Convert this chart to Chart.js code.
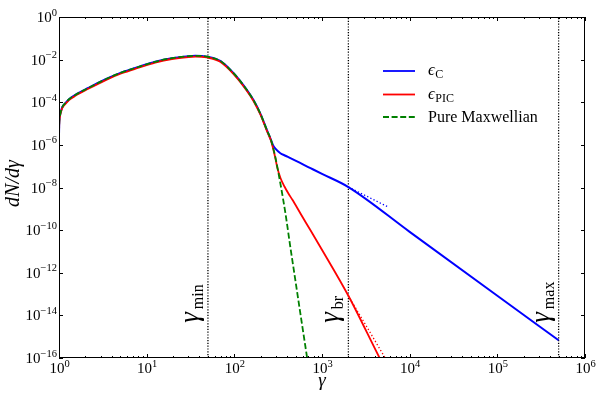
<!DOCTYPE html>
<html>
<head>
<meta charset="utf-8">
<script src="https://cdn.jsdelivr.net/npm/chart.js@4.4.0/dist/chart.umd.min.js"></script>
<style>
  html, body { margin: 0; padding: 0; background: #fff; }
  #chart { display: block; }
</style>
</head>
<body>
<canvas id="chart" width="598" height="397"></canvas>
<script>
// thermal part, shared by all three curves
const thermalGamma = [1.001, 1.005, 1.027, 1.06, 1.1, 1.17, 1.3, 1.52, 2.16, 3.36, 5.2, 8.1, 12.5, 19.4, 30, 36, 48.6, 69, 98.6, 140, 166, 198, 236, 263];
const thermalN = [3.55e-6, 8.91e-6, 2.40e-5, 4.17e-5, 6.31e-5, 8.71e-5, 1.38e-4, 2.14e-4, 4.68e-4, 1.17e-3, 2.51e-3, 4.57e-3, 7.94e-3, 1.17e-2, 1.45e-2, 1.51e-2, 1.38e-2, 8.71e-3, 2.24e-3, 3.63e-4, 1.23e-4, 2.95e-5, 4.79e-6, 1.62e-6];
// the PIC curve sits a hair lower in the thermal part
const picThermalN = [3.24e-6, 8.13e-6, 2.19e-5, 3.80e-5, 5.75e-5, 7.94e-5, 1.26e-4, 1.95e-4, 4.27e-4, 1.07e-3, 2.29e-3, 4.17e-3, 7.24e-3, 1.07e-2, 1.32e-2, 1.38e-2, 1.26e-2, 7.94e-3, 2.04e-3, 3.31e-4, 1.12e-4, 2.69e-5, 4.37e-6, 1.48e-6];

// tails
const maxwellTailGamma = [294, 335, 383, 436, 498, 568, 677, 700];
const maxwellTailN = [2.57e-7, 1.55e-8, 6.03e-10, 1.55e-11, 4.17e-13, 1.15e-14, 1.0e-16, 3.98e-17];

const compTailGamma = [275, 294, 335, 383, 436, 739, 1000, 2000, 1e4, 1e5, 5e5];
const compTailN = [1.0e-6, 6.61e-7, 4.07e-7, 3.09e-7, 2.40e-7, 8.13e-8, 4.37e-8, 1.05e-8, 8.32e-11, 8.32e-14, 6.76e-16];

const picTailGamma = [294, 308, 336, 373, 414, 460, 568, 739, 961, 2000, 4540, 6070];
const picTailN = [2.34e-7, 9.02e-8, 2.80e-8, 1.11e-8, 5.22e-9, 2.64e-9, 6.04e-10, 9.79e-11, 1.58e-11, 8.32e-14, 1.0e-16, 1.0e-17];

// dotted continuations past the break
const compExtGamma = [2000, 5800];
const compExtN = [1.05e-8, 1.17e-9];
const picExtGamma = [2000, 5260];
const picExtN = [8.32e-14, 1.0e-16];

// vertical markers
const markGamma = [50, 2000, 5e5];
const markSub = ['min', 'br', 'max'];

// ticks
const xTickExp = [0, 1, 2, 3, 4, 5, 6];
const yTickExp = [0, -2, -4, -6, -8, -10, -12, -14, -16];

// legend
const legendItems = [
    { color: '#0000ff', dash: [], main: '\u03f5', sub: 'C' },
    { color: '#ff0000', dash: [], main: '\u03f5', sub: 'PIC' },
    { color: '#008000', dash: [6, 2.6], main: 'Pure Maxwellian', sub: '' }
];

function pts(xs, ys) {
    return xs.map(function (x, i) { return { x: x, y: ys[i] }; });
}

const SERIF = '"Liberation Serif", "DejaVu Serif", serif';

const datasets = [
    {
        data: pts(thermalGamma.concat(maxwellTailGamma), thermalN.concat(maxwellTailN)),
        borderColor: '#008000', borderWidth: 1.8, borderDash: [6, 2.6],
        cubicInterpolationMode: 'monotone', order: 0
    },
    {
        data: pts(thermalGamma.concat(picTailGamma), picThermalN.concat(picTailN)),
        borderColor: '#ff0000', borderWidth: 1.8,
        cubicInterpolationMode: 'monotone', order: 1
    },
    {
        data: pts(thermalGamma.concat(compTailGamma), thermalN.concat(compTailN)),
        borderColor: '#0000ff', borderWidth: 2,
        cubicInterpolationMode: 'monotone', order: 2
    },
    {
        data: pts(compExtGamma, compExtN),
        borderColor: '#0000ff', borderWidth: 1.3, borderDash: [1.3, 2.2], order: 3
    },
    {
        data: pts(picExtGamma, picExtN),
        borderColor: '#ff0000', borderWidth: 1.3, borderDash: [1.3, 2.2], order: 3
    }
];

// one dotted vertical per marker
markGamma.forEach(function (g) {
    datasets.push({
        data: [{ x: g, y: 1e-16 }, { x: g, y: 1 }],
        borderColor: '#000', borderWidth: 1.3, borderDash: [1.2, 1.6], order: 4
    });
});

function powLabel(ctx, exp, x, y, align) {
    const base = '10';
    const sup = String(exp).replace('-', '\u2212');
    ctx.font = '15px ' + SERIF;
    const wb = ctx.measureText(base).width;
    ctx.font = '10.5px ' + SERIF;
    const ws = ctx.measureText(sup).width;
    const left = align === 'right' ? x - wb - ws : x - (wb + ws) / 2;
    ctx.textAlign = 'left';
    ctx.textBaseline = 'alphabetic';
    ctx.font = '15px ' + SERIF;
    ctx.fillText(base, left, y);
    ctx.font = '10.5px ' + SERIF;
    ctx.fillText(sup, left + wb, y - 6.5);
}

const decorations = {
    id: 'decorations',
    afterDraw(chart) {
        const ctx = chart.ctx;
        const a = chart.chartArea;
        const xs = chart.scales.x;
        const ys = chart.scales.y;

        ctx.save();
        ctx.strokeStyle = '#000';
        ctx.fillStyle = '#000';
        ctx.lineWidth = 1;
        ctx.setLineDash([]);

        // frame
        ctx.strokeRect(a.left + 0.5, a.top + 0.5, a.right - a.left - 1, a.bottom - a.top - 1);

        // x ticks, inward, bottom and top
        ctx.beginPath();
        xTickExp.forEach(function (e) {
            for (let m = 1; m <= 9; m++) {
                const v = m * Math.pow(10, e);
                if (v > 1e6) break;
                const px = Math.round(xs.getPixelForValue(v)) + 0.5;
                const len = m === 1 ? 4 : 2;
                ctx.moveTo(px, a.bottom); ctx.lineTo(px, a.bottom - len);
                ctx.moveTo(px, a.top); ctx.lineTo(px, a.top + len);
            }
        });
        // y ticks, left and right
        yTickExp.forEach(function (e) {
            const py = Math.round(ys.getPixelForValue(Math.pow(10, e))) + 0.5;
            ctx.moveTo(a.left, py); ctx.lineTo(a.left + 4, py);
            ctx.moveTo(a.right, py); ctx.lineTo(a.right - 4, py);
        });
        ctx.stroke();

        // tick labels
        xTickExp.forEach(function (e) {
            powLabel(ctx, e, xs.getPixelForValue(Math.pow(10, e)) + 0.5, a.bottom + 15, 'center');
        });
        yTickExp.forEach(function (e) {
            powLabel(ctx, e, a.left - 2, ys.getPixelForValue(Math.pow(10, e)) + 5, 'right');
        });

        // axis titles
        ctx.font = 'italic 19px ' + SERIF;
        ctx.textAlign = 'center';
        ctx.fillText('\u03b3', (a.left + a.right) / 2, a.bottom + 28);

        ctx.save();
        ctx.translate(19, (a.top + a.bottom) / 2 - 4);
        ctx.rotate(-Math.PI / 2);
        ctx.font = 'italic 20px ' + SERIF;
        ctx.textAlign = 'center';
        ctx.fillText('dN/d\u03b3', 0, 0);
        ctx.restore();

        // marker labels, rotated
        markGamma.forEach(function (g, i) {
            const px = xs.getPixelForValue(g);
            const py = ys.getPixelForValue(4.5e-15);
            ctx.save();
            ctx.translate(px - 10, py);
            ctx.rotate(-Math.PI / 2);
            ctx.textAlign = 'left';
            ctx.font = 'italic 27px ' + SERIF;
            ctx.fillText('\u03b3', 0, 0);
            const w = ctx.measureText('\u03b3').width;
            ctx.font = '16px ' + SERIF;
            ctx.fillText(markSub[i], w + 3, 5);
            ctx.restore();
        });

        // legend
        const lx = 383, tx = 428;
        const ly = [71, 94.5, 117];
        legendItems.forEach(function (it, i) {
            ctx.strokeStyle = it.color;
            ctx.lineWidth = 1.8;
            ctx.setLineDash(it.dash);
            ctx.beginPath();
            ctx.moveTo(lx, ly[i]);
            ctx.lineTo(lx + 32, ly[i]);
            ctx.stroke();
            ctx.setLineDash([]);
            ctx.textAlign = 'left';
            if (it.sub) {
                ctx.font = 'italic 17px ' + SERIF;
                ctx.fillText(it.main, tx, ly[i] + 4);
                const w = ctx.measureText(it.main).width;
                ctx.font = '12px ' + SERIF;
                ctx.fillText(it.sub, tx + w + 0.5, ly[i] + 7);
            } else {
                ctx.font = '16px ' + SERIF;
                ctx.fillText(it.main, tx, ly[i] + 5);
            }
        });

        ctx.restore();
    }
};

const ctx = document.getElementById('chart').getContext('2d');

const myChart = new Chart(ctx, {
    type: 'line',
    data: { datasets: datasets },
    options: {
        responsive: false,
        animation: false,
        devicePixelRatio: 1,
        layout: { padding: { left: 59, right: 13, top: 17, bottom: 39 } },
        elements: { point: { radius: 0 }, line: { fill: false } },
        scales: {
            x: { type: 'logarithmic', min: 1, max: 1e6, display: false },
            y: { type: 'logarithmic', min: 1e-16, max: 1, display: false }
        },
        plugins: {
            legend: { display: false },
            tooltip: { enabled: false }
        }
    },
    plugins: [decorations]
});
</script>
</body>
</html>
